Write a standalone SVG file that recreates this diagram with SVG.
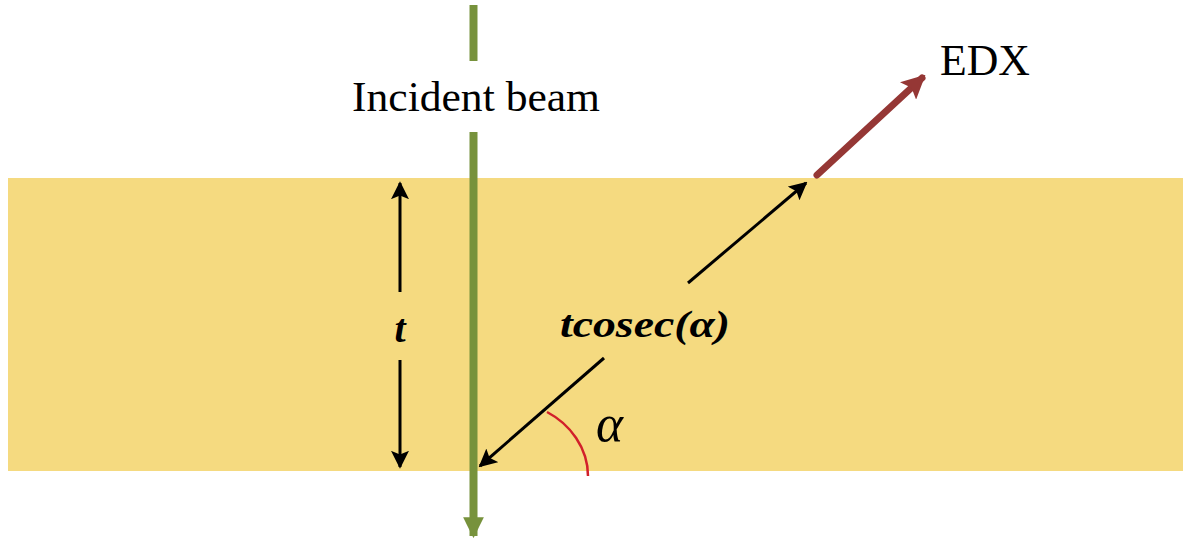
<svg xmlns="http://www.w3.org/2000/svg" width="1183" height="548" viewBox="0 0 1183 548">
<defs>
<style>
.lbl{font-family:"Liberation Serif",serif;fill:#000}
.blk{stroke:#000;stroke-width:3;fill:none}
</style>
<marker id="ah" viewBox="0 0 10 10" refX="9" refY="5" markerWidth="6" markerHeight="6" markerUnits="strokeWidth" orient="auto-start-reverse"><path d="M0,0 L10,5 L0,10 L2,5 z" fill="#000"/></marker>
<marker id="gh" viewBox="0 0 10 10" refX="9" refY="5" markerWidth="2.6" markerHeight="3" orient="auto"><path d="M0,0 L10,5 L0,10 z" fill="#77923c"/></marker>
<marker id="rh" viewBox="0 0 10 10" refX="8" refY="5" markerWidth="3.4" markerHeight="3.4" orient="auto"><path d="M0,0 L10,5 L0,10 L2,5 z" fill="#953735"/></marker>
</defs>
<rect width="1183" height="548" fill="#fff"/>
<g id="sample"><rect x="8" y="178" width="1175" height="293" fill="#f5da80"/></g>
<g id="connectors">
<line x1="473.5" y1="5" x2="473.5" y2="61" stroke="#77923c" stroke-width="8"/>
<line x1="473.5" y1="132" x2="473.5" y2="536" stroke="#77923c" stroke-width="8" marker-end="url(#gh)"/>
<line class="blk" x1="400" y1="292" x2="400" y2="183" marker-end="url(#ah)"/>
<line class="blk" x1="400" y1="360" x2="400" y2="467" marker-end="url(#ah)"/>
<line class="blk" x1="604" y1="358" x2="480" y2="466" marker-end="url(#ah)"/>
<line class="blk" x1="688" y1="283" x2="806" y2="183" marker-end="url(#ah)"/>
<line x1="817" y1="175" x2="922" y2="78" stroke="#953735" stroke-width="7" stroke-linecap="round" marker-end="url(#rh)"/>
<path d="M547,412 C570,424 588,448 588,476" fill="none" stroke="#d2202a" stroke-width="2.5"/>
</g>
<g id="labels">
<text class="lbl" x="352" y="111" font-size="42" textLength="248" lengthAdjust="spacingAndGlyphs">Incident beam</text>
<text class="lbl" x="940" y="75" font-size="44" textLength="90" lengthAdjust="spacingAndGlyphs">EDX</text>
<text class="lbl" x="400" y="342" font-size="40" font-style="italic" font-weight="bold" text-anchor="middle">t</text>
<text class="lbl" x="560" y="337" font-size="38" font-style="italic" font-weight="bold" textLength="170" lengthAdjust="spacingAndGlyphs">tcosec(α)</text>
<text class="lbl" x="596" y="441" font-size="52" font-style="italic" textLength="27" lengthAdjust="spacingAndGlyphs">α</text>
</g>
</svg>
